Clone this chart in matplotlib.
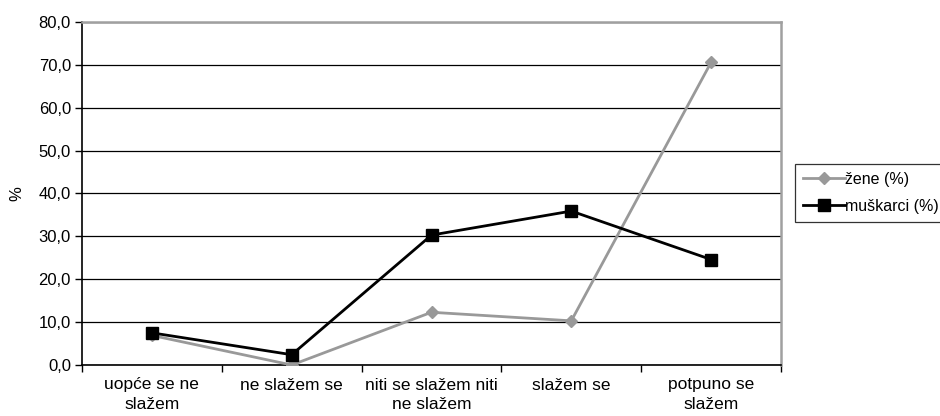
import numpy as np
import matplotlib.pyplot as plt
from matplotlib.ticker import FuncFormatter

plt.rcParams['font.family'] = ['Liberation Sans', 'DejaVu Sans']

categories = ["uopće se ne\nslažem", "ne slažem se", "niti se slažem niti\nne slažem",
              "slažem se", "potpuno se\nslažem"]
zene = [6.9, 0.0, 12.3, 10.3, 70.6]
muskarci = [7.5, 2.4, 30.3, 35.9, 24.6]

fig = plt.figure(figsize=(9.4, 4.16), dpi=100)
ax = fig.add_axes([82/940, 51/416, 699/940, 343/416])

x = np.arange(len(categories))
ax.plot(x, zene, color='#999999', lw=2, marker='D', ms=6.5,
        mec='#999999', mfc='#999999', label='žene (%)', zorder=3)
ax.plot(x, muskarci, color='black', lw=2, marker='s', ms=8.5,
        mec='black', mfc='black', label='muškarci (%)', zorder=4)

ax.set_xlim(-0.5, len(categories) - 0.5)
ax.set_ylim(0, 80)
ax.set_yticks(np.arange(0, 81, 10))
ax.yaxis.set_major_formatter(FuncFormatter(lambda v, p: f"{v:.1f}".replace('.', ',')))
ax.yaxis.grid(True, color='black', lw=0.9)
ax.set_axisbelow(True)

# category labels sit between the boundary ticks
ax.set_xticks(np.arange(len(categories) + 1) - 0.5)
ax.set_xticklabels([])
ax.set_xticks(x, minor=True)
ax.set_xticklabels(categories, minor=True, fontsize=12.5, linespacing=1.4)
ax.tick_params(axis='x', which='minor', length=0, pad=9)
ax.tick_params(axis='x', which='major', length=5, width=1, direction='out')
ax.tick_params(axis='y', length=5, width=1, direction='out', labelsize=12, pad=3)

for s in ['left', 'bottom']:
    ax.spines[s].set_color('black')
    ax.spines[s].set_linewidth(1.2)
for s in ['top', 'right']:
    ax.spines[s].set_color('#a0a0a0')
    ax.spines[s].set_linewidth(1.8)

ax.set_ylabel('%', fontsize=12, labelpad=10)

leg = fig.legend(loc='upper left', bbox_to_anchor=(795/940, 1 - 164/416),
                 frameon=True, fancybox=False, edgecolor='black', fontsize=11.5,
                 handlelength=2.6, handletextpad=0.05, borderpad=0.5,
                 labelspacing=0.75, borderaxespad=0)
leg.get_frame().set_linewidth(0.9)

fig.savefig('out.png', dpi=100)
